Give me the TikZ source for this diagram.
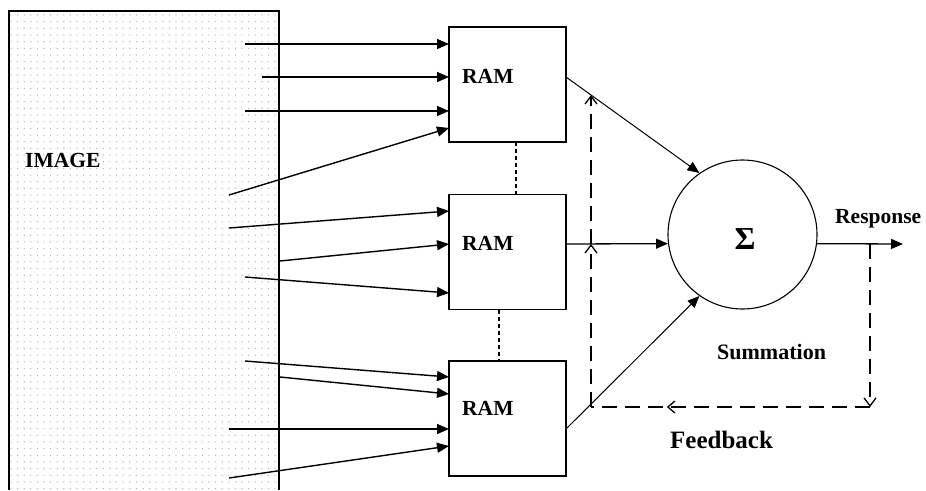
\documentclass[tikz,border=0pt]{standalone}
\usepackage{fontspec}
\setmainfont{Liberation Serif}
\usetikzlibrary{arrows.meta,calc,decorations.markings}
\begin{document}
\begin{tikzpicture}[x=1pt,y=-1pt,
  ramstyle/.style={draw,line width=1.4pt,minimum width=117pt,minimum height=115pt,inner sep=0pt,outer sep=0pt},
  lbl/.style={font=\bfseries\fontsize{21.5}{21.5}\selectfont,inner sep=0pt,anchor=base west},
  inarr/.style={line width=1.4pt,-{Triangle[length=12pt,width=10pt]}},
  outarr/.style={line width=1pt,-{Triangle[length=12pt,width=10pt]}},
  fb/.style={line width=1.3pt,dash pattern=on 15pt off 8pt},
  barb/.style={-{Straight Barb[length=8pt,width=12pt,line width=1.3pt]}},
  linkd/.style={line width=1.2pt,dash pattern=on 4pt off 3pt},
  midbarb/.style={postaction={decorate},decoration={markings,mark=at position 0.728 with {\arrow{Straight Barb[length=7pt,width=12pt,line width=1.3pt]}}}}
]
\useasboundingbox (0,0) rectangle (926,490);
\fill[white] (0,0) rectangle (926,490);
% image area with dot texture
\foreach \i in {0,...,40}{
  \foreach \j in {0,...,71}{
    \fill[gray!60] (11+\i*6.6,15+\j*6.67) circle (0.7);
  }
}
\draw[line width=1.4pt] (9,490) -- (9,11) -- (279,11) -- (279,490);
\node[lbl] (imgt) at (25,167) {IMAGE};

% RAM boxes
\node[ramstyle] (ram1) at (507.5,84.5) {};
\node[ramstyle] (ram2) at (507.5,252) {};
\node[ramstyle] (ram3) at (507.5,418.5) {};
\node[lbl] (r1t) at (462,83) {RAM};
\node[lbl] (r2t) at (462,250) {RAM};
\node[lbl] (r3t) at (462,415) {RAM};

% summation circle
\node[draw,circle,line width=1.1pt,minimum size=149pt,inner sep=0pt] (sum) at (742.5,234.5) {};
\node[font=\bfseries\fontsize{32}{32}\selectfont,inner sep=0pt,anchor=base] (sig) at (745,249) {Σ};
\node[lbl] (resp) at (835,223) {Response};
\node[lbl,font=\bfseries\fontsize{22}{22}\selectfont] (summ) at (717,359) {Summation};
\node[lbl,font=\bfseries\fontsize{25}{25}\selectfont] (fbt) at (670,448) {Feedback};

% dashed links between RAMs
\draw[linkd] ($(ram1.south)+(8.5,0)$) -- ($(ram2.north)+(8.5,0)$);
\draw[linkd] ($(ram2.south)+(-8.5,0)$) -- ($(ram3.north)+(-8.5,0)$);

% inputs to RAM 1
\coordinate (a1) at (245,44);
\coordinate (a2) at (262,77);
\coordinate (a3) at (245,111);
\coordinate (a4) at (229,195);
\draw[inarr] (a1) -- ($(ram1.west)+(0,-40.5)$);
\draw[inarr] (a2) -- ($(ram1.west)+(0,-7.5)$);
\draw[inarr] (a3) -- ($(ram1.west)+(0,26.5)$);
\draw[inarr] (a4) -- ($(ram1.west)+(0,43.5)$);
% inputs to RAM 2
\coordinate (b1) at (229,228);
\coordinate (b2) at (280,261);
\coordinate (b3) at (245,277);
\draw[inarr] (b1) -- ($(ram2.west)+(0,-41)$);
\draw[inarr] (b2) -- ($(ram2.west)+(0,-8)$);
\draw[inarr] (b3) -- ($(ram2.west)+(0,41)$);
% inputs to RAM 3
\coordinate (c1) at (245,361);
\coordinate (c2) at (280,377);
\coordinate (c3) at (229,429);
\coordinate (c4) at (229,478);
\draw[inarr] (c1) -- ($(ram3.west)+(0,-41.5)$);
\draw[inarr] (c2) -- ($(ram3.west)+(0,-24.5)$);
\draw[inarr] (c3) -- ($(ram3.west)+(0,10.5)$);
\draw[inarr] (c4) -- ($(ram3.west)+(0,27.5)$);

% outputs to summation
\coordinate (o1) at ($(ram1.east)+(0,-7.5)$);
\coordinate (o2) at ($(ram2.east)+(0,-8)$);
\coordinate (o3) at ($(ram3.east)+(0,10.5)$);
\draw[outarr] (o1) -- (sum.125.1);
\draw[line width=1.3pt,-{Triangle[length=12pt,width=10pt]}] (o2) -- (sum.187.3);
\draw[outarr] (o3) -- (sum.235.8);

% response
\coordinate (respend) at (903,244);
\draw[line width=1.3pt,-{Triangle[length=12pt,width=10pt]}] (sum.-7.3) -- (respend);

% feedback loop
\coordinate (fbtop) at (870,244);
\coordinate (fbbr) at (870,407);
\coordinate (fbbl) at (591,407);
\coordinate (up2) at (591,244);
\coordinate (up1) at (591,95);
\draw[fb,barb] (fbtop) -- (fbbr);
\draw[fb,midbarb] (fbbr) -- (fbbl);
\draw[fb,barb] (fbbl) -- (up2);
\draw[fb,barb] (up2) -- (up1);
\end{tikzpicture}
\end{document}
